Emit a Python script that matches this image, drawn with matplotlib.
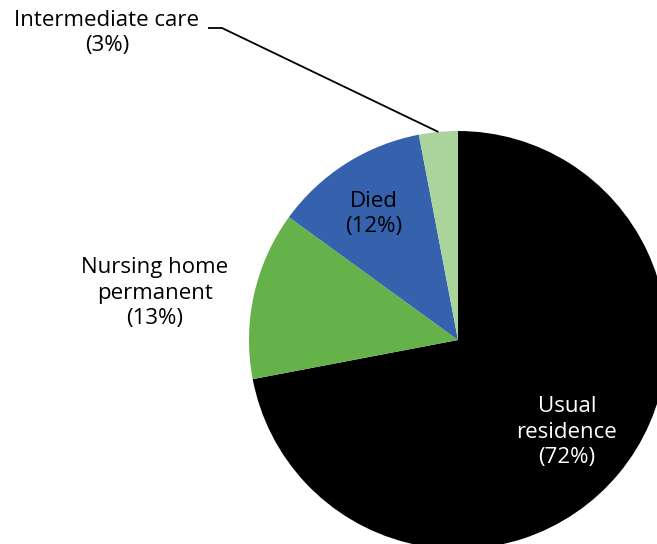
import matplotlib
matplotlib.use("Agg")
import numpy as np
import matplotlib.pyplot as plt

labels = ["Usual\nresidence", "Nursing home\npermanent", "Died", "Intermediate care"]
shares = [72, 13, 12, 3]
colors = ["#000000", "#65b24b", "#3561ad", "#aad49b"]

plt.rcParams["font.family"] = ["Open Sans", "DejaVu Sans"]

W, H = 657, 544
fig = plt.figure(figsize=(W / 100, H / 100), dpi=100, facecolor="white")
ax = fig.add_axes([0, 0, 1, 1])

cx, cy, r = 458, H - 340, 209
wedges, _ = ax.pie(
    shares,
    colors=colors,
    startangle=90,
    counterclock=False,
    center=(cx, cy),
    radius=r,
    wedgeprops=dict(linewidth=0),
)
ax.set_xlim(0, W)
ax.set_ylim(0, H)
ax.set_aspect("equal")
ax.axis("off")

fs = 16
ls = 1.3
txt = ["{}\n({}%)".format(l, s) for l, s in zip(labels, shares)]

# labels placed like the original
ax.text(567, H - 432, txt[0], color="white", ha="center", va="center",
        fontsize=fs, linespacing=ls)
ax.text(155, H - 293, txt[1], color="black", ha="center", va="center",
        fontsize=fs, linespacing=ls)
ax.text(374, H - 214, txt[2], color="black", ha="center", va="center",
        fontsize=fs, linespacing=ls)
ax.text(107, H - 33, txt[3], color="black", ha="center", va="center",
        fontsize=fs, linespacing=ls)

# leader line for the small slice
w = wedges[3]
mid = np.deg2rad((w.theta1 + w.theta2) / 2)
px, py = cx + r * np.cos(mid), cy + r * np.sin(mid)
ax.plot([208, 222, px], [H - 28, H - 28, py], color="black", lw=1.3,
        solid_capstyle="butt")

fig.savefig("out.png", dpi=100, facecolor="white")
